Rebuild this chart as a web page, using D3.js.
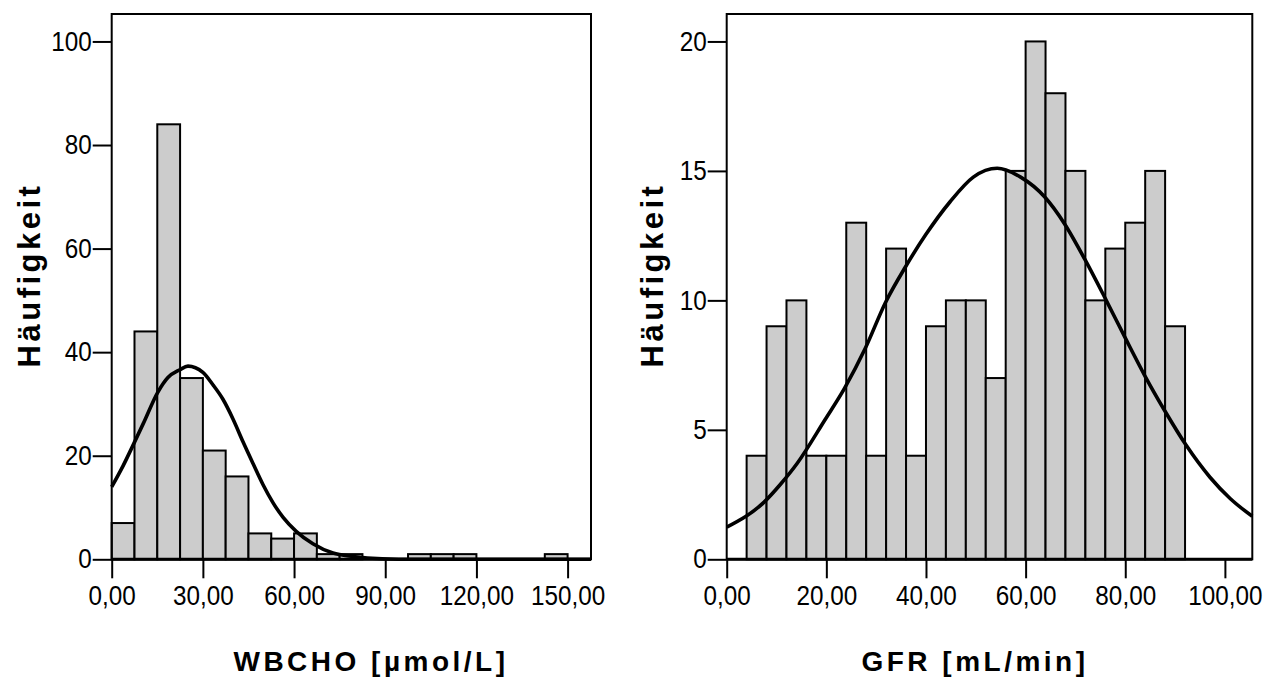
<!DOCTYPE html>
<html>
<head>
<meta charset="utf-8">
<script src="https://cdn.jsdelivr.net/npm/d3@7"></script>
<style>
  body { margin: 0; background: #fff; }
  text { font-family: "Liberation Sans", Arial, sans-serif; fill: #000; }
</style>
</head>
<body>
<script>

// --- WBCHO histogram (bin width 7.5) ---
var wbchoBinStart = [0, 7.5, 15, 22.5, 30, 37.5, 45, 52.5, 60, 67.5, 75, 82.5, 90, 97.5, 105, 112.5, 120, 127.5, 135, 142.5];
var wbchoCounts   = [7, 44, 84, 35, 21, 16, 5, 4, 5, 1, 1, 0, 0, 1, 1, 1, 0, 0, 0, 1];
var wbchoBinWidth = 7.5;
// normal curve
var wbchoCurveX = [0, 3.7, 7, 10.3, 15.2, 18.5, 22.4, 25.1, 30, 33.3, 36.6, 39.9, 43.2, 46.5, 49.8, 53.1, 56.4, 60.7, 66.2, 72.8, 79.4, 89, 100, 157.7];
var wbchoCurveY = [14, 18, 22, 26.1, 32.3, 35.1, 36.6, 37.3, 36.1, 33.7, 30.9, 27.1, 22.7, 18.5, 14.4, 10.9, 8.1, 5.4, 3.0, 1.2, 0.55, 0.1, 0, 0];
var wbchoXTicks = [0, 30, 60, 90, 120, 150];
var wbchoYTicks = [0, 20, 40, 60, 80, 100];

// --- GFR histogram (bin width 4) ---
var gfrBinStart = [4, 8, 12, 16, 20, 24, 28, 32, 36, 40, 44, 48, 52, 56, 60, 64, 68, 72, 76, 80, 84, 88];
var gfrCounts   = [4, 9, 10, 4, 4, 13, 4, 12, 4, 9, 10, 10, 7, 15, 20, 18, 15, 10, 12, 13, 15, 9];
var gfrBinWidth = 4;
var gfrCurveX = [0, 7.45, 10.8, 14.2, 19.7, 23.7, 27.8, 31.9, 35.9, 40.0, 44.8, 49.5, 54.3, 59.0, 63.8, 67.8, 71.9, 76.0, 80.0, 84.1, 88.2, 92.2, 97.0, 101.1, 105.5];
var gfrCurveY = [1.24, 2.2, 2.9, 3.72, 5.38, 6.62, 8.14, 9.93, 11.3, 12.55, 13.8, 14.76, 15.1, 14.76, 14.0, 12.96, 11.58, 10.07, 8.55, 7.03, 5.65, 4.41, 3.17, 2.34, 1.66];
var gfrXTicks = [0, 20, 40, 60, 80, 100];
var gfrYTicks = [0, 5, 10, 15, 20];

var width = 1284, height = 684;

var svg = d3.select("body")
  .append("svg")
  .attr("width", width)
  .attr("height", height);

var deFormat = d3.formatLocale({decimal: ",", thousands: ".", grouping: [3], currency: ["", " €"]}).format(".2f");

function drawPanel(p) {
  var x = d3.scaleLinear().domain([0, p.xMax]).range([p.left, p.right]);
  var y = d3.scaleLinear().domain([0, p.yMax]).range([p.bottom, p.top]);

  var g = svg.append("g");

  // bars
  var bars = p.bins.map(function(b, i) { return {start: b, count: p.counts[i]}; })
    .filter(function(d) { return d.count > 0; });

  g.selectAll("rect.bar")
    .data(bars)
    .enter().append("rect")
    .attr("class", "bar")
    .attr("x", function(d) { return x(d.start); })
    .attr("y", function(d) { return y(d.count); })
    .attr("width", function(d) { return x(d.start + p.binWidth) - x(d.start); })
    .attr("height", function(d) { return y(0) - y(d.count); })
    .attr("fill", "#cccccc")
    .attr("stroke", "#000")
    .attr("stroke-width", 2);

  // normal curve
  var line = d3.line()
    .x(function(d) { return x(d[0]); })
    .y(function(d) { return y(d[1]); })
    .curve(d3.curveMonotoneX);

  g.append("path")
    .datum(d3.zip(p.curveX, p.curveY))
    .attr("d", line)
    .attr("fill", "none")
    .attr("stroke", "#000")
    .attr("stroke-width", 3.6);

  // frame
  g.append("rect")
    .attr("x", p.left)
    .attr("y", p.top)
    .attr("width", p.right - p.left)
    .attr("height", p.bottom - p.top)
    .attr("fill", "none")
    .attr("stroke", "#000")
    .attr("stroke-width", 2);

  g.append("line")
    .attr("x1", p.left).attr("x2", p.right)
    .attr("y1", p.bottom).attr("y2", p.bottom)
    .attr("stroke", "#000")
    .attr("stroke-width", 3);

  // axes
  var xAxis = d3.axisBottom(x)
    .tickValues(p.xTicks)
    .tickSize(19)
    .tickPadding(8)
    .tickFormat(deFormat);

  var yAxis = d3.axisLeft(y)
    .tickValues(p.yTicks)
    .tickSize(19)
    .tickPadding(3.2)
    .tickFormat(function(d) { return d; });

  var xg = g.append("g")
    .attr("transform", "translate(0," + p.bottom + ")")
    .call(xAxis);

  var yg = g.append("g")
    .attr("transform", "translate(" + p.left + ",0)")
    .call(yAxis);

  [xg, yg].forEach(function(a) {
    a.select(".domain").remove();
    a.selectAll(".tick line").attr("stroke", "#000").attr("stroke-width", 2);
    a.selectAll(".tick text")
      .attr("fill", "#000")
      .attr("transform", "scale(0.9,1)")
      .style("font-size", "27px")
      .style("font-family", "'Liberation Sans', Arial, sans-serif");
  });

  // axis titles
  g.append("text")
    .attr("x", p.xTitleX)
    .attr("y", 671)
    .attr("text-anchor", "middle")
    .style("font-size", "28px")
    .style("font-weight", "bold")
    .style("letter-spacing", "3.5px")
    .text(p.xTitle);

  g.append("text")
    .attr("transform", "translate(" + p.yTitleX + ",275) rotate(-90)")
    .attr("text-anchor", "middle")
    .style("font-size", "31px")
    .style("font-weight", "bold")
    .style("letter-spacing", "3.5px")
    .text("Häufigkeit");
}

drawPanel({
  bins: wbchoBinStart, counts: wbchoCounts, binWidth: wbchoBinWidth,
  curveX: wbchoCurveX, curveY: wbchoCurveY,
  xTicks: wbchoXTicks, yTicks: wbchoYTicks,
  xMax: 157.7, yMax: 105.3,
  left: 111.7, right: 591, top: 14, bottom: 559.3,
  xTitle: "WBCHO [µmol/L]", xTitleX: 371, yTitleX: 40
});

drawPanel({
  bins: gfrBinStart, counts: gfrCounts, binWidth: gfrBinWidth,
  curveX: gfrCurveX, curveY: gfrCurveY,
  xTicks: gfrXTicks, yTicks: gfrYTicks,
  xMax: 105.5, yMax: 21.06,
  left: 726.7, right: 1252.3, top: 14, bottom: 559.3,
  xTitle: "GFR [mL/min]", xTitleX: 975, yTitleX: 663
});

</script>
</body>
</html>
